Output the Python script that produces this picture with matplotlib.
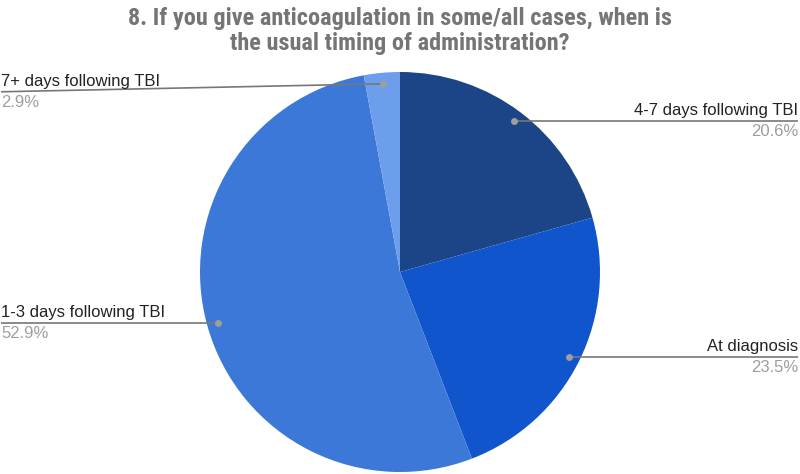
import numpy as np
import matplotlib
matplotlib.use("Agg")
import matplotlib.pyplot as plt

labels = ["4-7 days following TBI", "At diagnosis", "1-3 days following TBI", "7+ days following TBI"]
values = [20.6, 23.5, 52.9, 2.9]
colors = ["#1c4587", "#1155cc", "#3c78d8", "#6d9eeb"]
title = "8. If you give anticoagulation in some/all cases, when is\nthe usual timing of administration?"

W, H = 800, 474
fig = plt.figure(figsize=(8, 4.74), dpi=100)
ax = fig.add_axes([0, 0, 1, 1])
cx, cy, r = 400, H - 272, 200
wedges, _ = ax.pie(values, colors=colors, startangle=90, counterclock=False,
                   center=(cx, cy), radius=r, wedgeprops=dict(linewidth=0))
ax.set_xlim(0, W)
ax.set_ylim(0, H)
ax.set_aspect("equal")
ax.axis("off")

# label end y offsets (pixels, relative to dot) for avoiding overlap
end_dy = {3: -8}
for i, w in enumerate(wedges):
    ang = np.deg2rad((w.theta1 + w.theta2) / 2)
    dx, dy = np.cos(ang) * r * 0.945, np.sin(ang) * r * 0.945
    px, py = cx + dx, cy + dy
    right = dx > 0
    ex = W - 2 if right else 1
    ey = py + end_dy.get(i, 0)
    ax.plot([px, ex], [py, ey], color="#777777", lw=1.2, solid_capstyle="butt", zorder=3)
    ax.plot([px], [py], "o", color="#9e9e9e", ms=5, zorder=4, mec="none")
    ha = "right" if right else "left"
    ax.text(ex, ey + 3, labels[i], ha=ha, va="bottom", fontsize=12,
            color="#222222", family=["Liberation Sans", "DejaVu Sans"])
    ax.text(ex, ey - 3, f"{values[i]:.1f}%", ha=ha, va="top", fontsize=12,
            color="#9e9e9e", family=["Liberation Sans", "DejaVu Sans"])

fig.text(0.5, 1 - 31 / H, title, ha="center", va="center", fontsize=17.5,
         fontweight="bold", color="#757575", linespacing=1.12,
         family=["Liberation Sans Narrow", "Roboto Condensed", "Liberation Sans", "DejaVu Sans"])

fig.savefig("out.png", dpi=100)
